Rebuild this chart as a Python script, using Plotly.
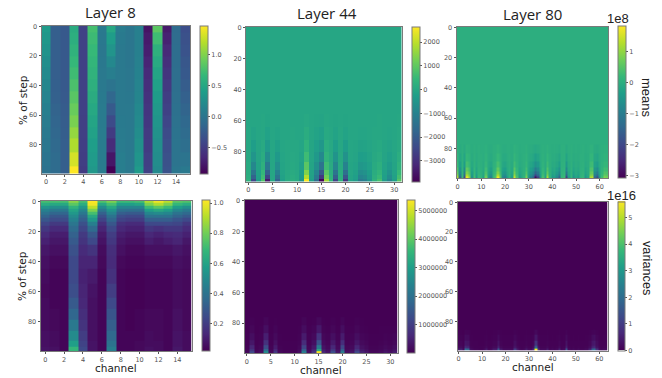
import plotly.graph_objects as go

W, H = 662, 378

# ---------- tick / text data ----------
y_ticks = [0, 20, 40, 60, 80]
x_ticks_8 = [0, 2, 4, 6, 8, 10, 12, 14]
x_ticks_44 = [0, 5, 10, 15, 20, 25, 30]
x_ticks_80 = [0, 10, 20, 30, 40, 50, 60]
titles = ["Layer 8", "Layer 44", "Layer 80"]

flat32 = [0, 0, 0, 0, 0, 0, 0, 0, 0, 0, 0, 0, 0, 0, 0, 0, 0, 0, 0, 0, 0, 0, 0, 0, 0, 0, 0, 0, 0, 0, 0, 0]
flat64 = [0, 0, 0, 0, 0, 0, 0, 0, 0, 0, 0, 0, 0, 0, 0, 0, 0, 0, 0, 0, 0, 0, 0, 0, 0, 0, 0, 0, 0, 0, 0, 0,
          0, 0, 0, 0, 0, 0, 0, 0, 0, 0, 0, 0, 0, 0, 0, 0, 0, 0, 0, 0, 0, 0, 0, 0, 0, 0, 0, 0, 0, 0, 0, 0]

# ---------- Layer 8 means: one list per channel, rows at y8m ----------
y8m = [0, 8, 16, 24, 32, 40, 48, 56, 64, 72, 80, 90, 99]
m8_channels = [
    [.38, .34, .30, .26, .22, .18, .15, .11, .08, .05, .03, .00, -.02],
    [-.20, -.20, -.20, -.20, -.20, -.19, -.18, -.16, -.14, -.12, -.10, -.08, -.08],
    [-.25, -.25, -.25, -.25, -.25, -.25, -.24, -.23, -.22, -.21, -.20, -.20, -.20],
    [.55, .58, .62, .67, .72, .78, .84, .91, .98, 1.08, 1.18, 1.32, 1.47],
    [-.45, -.45, -.45, -.45, -.45, -.45, -.45, -.45, -.46, -.46, -.47, -.48, -.50],
    [.75, .71, .68, .65, .62, .59, .55, .51, .47, .44, .41, .38, .35],
    [.05, .04, .03, .04, .05, .05, .06, .07, .07, .08, .08, .08, .08],
    [.50, .40, .31, .20, .10, .00, -.12, -.24, -.37, -.50, -.62, -.78, -.92],
    [.08, .06, .05, .05, .05, .05, .05, .05, .06, .07, .08, .10, .10],
    [.02, .02, .02, .02, .03, .03, .04, .05, .05, .05, .05, .05, .05],
    [.12, .12, .12, .13, .14, .16, .17, .20, .22, .25, .28, .32, .38],
    [-.80, -.75, -.72, -.68, -.64, -.60, -.57, -.55, -.53, -.51, -.50, -.47, -.45],
    [.85, .72, .60, .53, .47, .43, .39, .35, .32, .29, .27, .25, .22],
    [-.75, -.70, -.65, -.60, -.56, -.52, -.48, -.45, -.41, -.37, -.35, -.32, -.30],
    [-.08, -.07, -.06, -.06, -.05, -.05, -.04, -.03, -.02, -.01, .00, .00, .02],
    [-.35, -.32, -.30, -.27, -.25, -.22, -.18, -.15, -.11, -.08, -.05, .00, .05],
]

# ---------- Layer 8 variances: one list per channel, rows at y8v ----------
y8v = [0, 2, 4, 6, 8, 10, 12, 15, 18, 22, 26, 32, 40, 50, 60, 68, 75, 82, 90, 95, 99]
v8_channels = [
    [.72, .64, .54, .46, .40, .34, .29, .23, .18, .14, .11, .08, .06, .05, .04, .05, .05, .05, .06, .06, .07],
    [.72, .62, .51, .42, .35, .29, .25, .19, .14, .10, .08, .06, .04, .03, .03, .03, .04, .04, .05, .05, .06],
    [.72, .62, .51, .42, .35, .29, .25, .19, .14, .10, .08, .06, .04, .03, .03, .03, .03, .03, .03, .03, .03],
    [.84, .76, .67, .60, .55, .50, .46, .41, .37, .33, .30, .27, .24, .24, .26, .30, .35, .42, .50, .58, .68],
    [.72, .64, .55, .48, .42, .36, .32, .27, .23, .19, .17, .14, .12, .11, .12, .13, .15, .17, .20, .22, .24],
    [1.02, 1.00, .92, .82, .72, .62, .55, .45, .37, .29, .24, .17, .12, .09, .07, .06, .06, .06, .06, .07, .07],
    [.74, .62, .50, .41, .33, .27, .22, .16, .12, .09, .07, .05, .04, .03, .03, .03, .03, .03, .03, .03, .03],
    [.82, .72, .62, .54, .47, .40, .35, .29, .24, .20, .18, .15, .14, .16, .20, .24, .28, .32, .36, .40, .44],
    [.70, .58, .47, .39, .32, .26, .22, .16, .13, .10, .08, .06, .04, .03, .03, .03, .03, .03, .03, .03, .03],
    [.70, .58, .47, .38, .30, .24, .20, .14, .11, .08, .06, .04, .03, .02, .02, .02, .02, .02, .03, .03, .03],
    [.72, .60, .47, .38, .30, .24, .20, .14, .11, .08, .06, .04, .03, .02, .02, .02, .03, .03, .03, .04, .04],
    [.90, .82, .70, .58, .48, .40, .32, .24, .18, .13, .10, .06, .04, .03, .03, .03, .04, .04, .05, .05, .06],
    [1.00, .90, .76, .62, .50, .40, .32, .24, .16, .11, .08, .06, .04, .03, .03, .03, .04, .04, .04, .05, .05],
    [.92, .82, .70, .58, .48, .40, .32, .24, .18, .13, .10, .06, .04, .03, .03, .03, .03, .03, .03, .03, .03],
    [.76, .68, .57, .48, .40, .34, .28, .23, .18, .14, .12, .08, .06, .05, .05, .05, .06, .06, .07, .07, .08],
    [.74, .64, .52, .43, .36, .30, .24, .18, .14, .11, .08, .06, .05, .04, .04, .04, .04, .04, .05, .05, .05],
]

# ---------- Layer 44 means: one list per row ----------
y44m = [0, 52, 60, 69, 77, 84, 90, 94, 97, 99]
m44_rows = [
    flat32,
    flat32,
    [0, -20, 0, 10, -30, 0, -20, 0, 0, 0, 0, 0, 50, 0, -30, -60, 20, 0, -30, 0, -30, 0, 0, -10, -10, 0, 0, 10, 0, -10, 0, 10],
    [10, -90, -10, 30, -130, 0, -70, -10, 0, 10, 0, -20, 150, -10, -100, -180, 70, 20, -100, 10, -100, 0, -10, -50, -40, -20, 10, 30, -10, -40, -10, 40],
    [30, -230, -30, 80, -330, 0, -170, -20, 10, 20, 10, -50, 330, -30, -220, -420, 180, 40, -240, 30, -260, -10, -30, -120, -100, -50, 30, 70, -30, -90, -20, 90],
    [60, -480, -60, 160, -680, 0, -360, -40, 20, 40, 20, -100, 600, -50, -380, -800, 350, 80, -500, 60, -550, -20, -60, -240, -200, -100, 60, 140, -60, -180, -40, 180],
    [100, -830, -100, 280, -1180, 0, -630, -70, 30, 70, 30, -180, 950, -80, -600, -1350, 600, 140, -860, 100, -960, -30, -100, -420, -350, -180, 100, 240, -100, -310, -70, 310],
    [160, -1300, -160, 440, -1850, 0, -1000, -110, 50, 110, 50, -280, 1400, -120, -900, -2100, 930, 220, -1350, 160, -1500, -50, -160, -660, -550, -280, 160, 380, -160, -500, -110, 500],
    [220, -1800, -220, 600, -2500, 0, -1350, -150, 70, 150, 70, -380, 1900, -150, -1150, -2800, 1250, 300, -1850, 220, -2100, -70, -220, -900, -750, -380, 220, 520, -220, -680, -150, 680],
    [300, -2400, -300, 800, -3400, 0, -1800, -200, 100, 200, 100, -500, 2600, -200, -1500, -3800, 1700, 400, -2500, 300, -2800, -100, -300, -1200, -1000, -500, 300, 700, -300, -900, -200, 900],
]

# ---------- Layer 44 variances ----------
y44v = [0, 74, 78, 84, 89, 93, 96, 98, 99]
v44_rows = [
    flat32,
    flat32,
    [0, 30000, 0, 0, 80000, 0, 20000, 0, 0, 0, 0, 0, 70000, 0, 20000, 120000, 10000, 0, 30000, 0, 70000, 0, 0, 30000, 10000, 0, 0, 0, 0, 0, 0, 0],
    [0, 90000, 0, 10000, 220000, 0, 60000, 0, 0, 0, 0, 10000, 190000, 10000, 60000, 350000, 40000, 20000, 90000, 20000, 200000, 10000, 20000, 90000, 30000, 20000, 0, 0, 10000, 20000, 10000, 20000],
    [10000, 200000, 10000, 30000, 460000, 10000, 140000, 10000, 0, 0, 0, 30000, 400000, 30000, 130000, 800000, 90000, 50000, 210000, 50000, 420000, 30000, 50000, 200000, 80000, 50000, 10000, 10000, 20000, 50000, 30000, 60000],
    [20000, 340000, 20000, 50000, 780000, 20000, 240000, 20000, 10000, 10000, 10000, 50000, 680000, 50000, 220000, 1400000, 160000, 80000, 360000, 80000, 700000, 50000, 80000, 340000, 140000, 80000, 20000, 20000, 40000, 80000, 50000, 100000],
    [40000, 560000, 40000, 90000, 1250000, 40000, 400000, 40000, 20000, 20000, 20000, 90000, 1100000, 90000, 370000, 2300000, 270000, 140000, 600000, 140000, 1150000, 90000, 140000, 560000, 230000, 140000, 40000, 40000, 70000, 140000, 90000, 180000],
    [70000, 850000, 70000, 140000, 1900000, 70000, 620000, 70000, 30000, 30000, 30000, 140000, 1700000, 140000, 560000, 3400000, 420000, 210000, 920000, 210000, 1700000, 140000, 210000, 850000, 350000, 210000, 70000, 70000, 100000, 210000, 140000, 280000],
    [100000, 1200000, 100000, 200000, 2600000, 100000, 900000, 100000, 50000, 50000, 50000, 200000, 2300000, 200000, 800000, 5370000, 600000, 300000, 1300000, 300000, 2300000, 200000, 300000, 1200000, 500000, 300000, 100000, 100000, 150000, 300000, 200000, 400000],
]

# ---------- Layer 80 means (units of 1e8) ----------
y80m = [0, 75, 80, 86, 91, 94, 96, 98, 99]
m80_rows = [
    flat64,
    flat64,
    [.05, -.06, .01, -.08, .07, .04, -.02, .02, -.02, .01, 0, -.01, .03, -.02, -.04, .01, .02, .09, .02, -.03, -.04, -.01, 0, -.02, .07, .02, -.02, -.01, 0, .04, -.02, -.04, -.08, -.14, -.09, -.02, .02, -.01, .06, 0, -.02, -.01, -.03, -.07, .01, .01, -.09, -.01, .01, -.02, -.01, -.02, 0, .01, -.02, -.01, .06, .07, -.06, -.08, -.02, .01, .04, .03],
    [.14, -.16, .03, -.2, .18, .1, -.06, .04, -.05, .02, .01, -.03, .08, -.04, -.09, .02, .05, .2, .06, -.07, -.1, -.03, .01, -.04, .16, .04, -.05, -.02, .01, .09, -.04, -.1, -.17, -.32, -.23, -.05, .04, -.03, .14, .01, -.05, -.03, -.08, -.17, .02, .03, -.23, -.03, .02, -.06, -.02, -.04, .01, .02, -.05, -.02, .14, .16, -.15, -.2, -.05, .03, .09, .08],
    [.26, -.3, .06, -.38, .34, .2, -.12, .08, -.1, .04, .02, -.06, .16, -.08, -.18, .04, .1, .36, .12, -.14, -.2, -.06, .02, -.08, .3, .08, -.1, -.04, .02, .18, -.08, -.2, -.32, -.6, -.44, -.1, .08, -.06, .26, .02, -.1, -.06, -.16, -.32, .04, .06, -.44, -.06, .04, -.12, -.04, -.08, .02, .04, -.1, -.04, .26, .3, -.28, -.38, -.1, .06, .18, .16],
    [.45, -.52, .1, -.68, .6, .34, -.2, .14, -.17, .07, .03, -.1, .28, -.14, -.3, .07, .17, .6, .2, -.24, -.34, -.1, .03, -.14, .52, .14, -.17, -.07, .03, .3, -.14, -.34, -.55, -1.02, -.75, -.17, .14, -.1, .42, .03, -.17, -.1, -.27, -.55, .07, .1, -.75, -.1, .07, -.2, -.07, -.14, .03, .07, -.17, -.07, .42, .45, -.48, -.68, -.17, .1, .3, .27],
    [.65, -.75, .15, -1.0, .85, .5, -.3, .2, -.25, .1, .05, -.15, .4, -.2, -.45, .1, .25, .85, .3, -.35, -.5, -.15, .05, -.2, .75, .2, -.25, -.1, .05, .45, -.2, -.5, -.8, -1.5, -1.1, -.25, .2, -.15, .6, .05, -.25, -.15, -.4, -.8, .1, .15, -1.1, -.15, .1, -.3, -.1, -.2, .05, .1, -.25, -.1, .6, .65, -.7, -1.0, -.25, .15, .45, .4],
    [.92, -1.05, .21, -1.4, 1.2, .7, -.42, .28, -.35, .14, .07, -.21, .56, -.28, -.63, .14, .35, 1.2, .42, -.49, -.7, -.21, .07, -.28, 1.05, .28, -.35, -.14, .07, .63, -.28, -.7, -1.12, -2.1, -1.54, -.35, .28, -.21, .84, .07, -.35, -.21, -.56, -1.12, .14, .21, -1.54, -.21, .14, -.42, -.14, -.28, .07, .14, -.35, -.14, .84, .92, -.98, -1.4, -.35, .21, .63, .56],
    [1.3, -1.5, .3, -2.0, 1.7, 1.0, -.6, .4, -.5, .2, .1, -.3, .8, -.4, -.9, .2, .5, 1.7, .6, -.7, -1.0, -.3, .1, -.4, 1.5, .4, -.5, -.2, .1, .9, -.4, -1.0, -1.6, -3.0, -2.2, -.5, .4, -.3, 1.2, .1, -.5, -.3, -.8, -1.6, .2, .3, -2.2, -.3, .2, -.6, -.2, -.4, .1, .2, -.5, -.2, 1.2, 1.3, -1.4, -2.0, -.5, .3, .9, .8],
]

# ---------- Layer 80 variances (units of 1e16) ----------
y80v = [0, 84, 87, 91, 95, 97, 98, 99]
v80_rows = [
    flat64,
    flat64,
    [.01, .01, 0, .06, .05, .01, 0, 0, 0, 0, 0, 0, .01, 0, 0, .01, .01, .05, .01, 0, 0, 0, 0, 0, .03, .01, 0, 0, 0, .01, 0, 0, .02, .12, .02, 0, 0, 0, .01, 0, 0, 0, 0, .01, 0, 0, .05, 0, 0, 0, 0, 0, 0, 0, 0, 0, .01, .05, .07, .03, 0, 0, 0, 0],
    [.03, .04, .01, .18, .16, .02, .01, 0, 0, 0, 0, .01, .03, 0, .01, .03, .03, .16, .03, .01, .01, .01, .01, .01, .1, .03, .01, 0, .01, .03, .01, .01, .05, .35, .06, .01, .01, .01, .03, 0, .01, 0, .01, .04, 0, .01, .14, .01, 0, .01, 0, .01, 0, 0, .01, .01, .04, .18, .22, .08, .01, 0, .01, .01],
    [.06, .08, .02, .34, .3, .04, .02, .01, .01, 0, 0, .02, .06, .01, .02, .06, .06, .3, .06, .02, .02, .02, .02, .02, .2, .06, .02, .01, .02, .06, .02, .02, .1, .8, .12, .02, .02, .02, .06, .01, .02, .01, .02, .08, .01, .02, .28, .02, .01, .02, .01, .02, .01, .01, .02, .02, .08, .32, .4, .16, .02, .01, .02, .02],
    [.11, .14, .04, .58, .5, .07, .04, .02, .02, .01, .01, .04, .11, .02, .04, .11, .11, .46, .11, .04, .04, .04, .04, .04, .28, .11, .04, .02, .04, .11, .04, .04, .18, 1.5, .22, .04, .04, .04, .11, .02, .04, .02, .04, .14, .02, .04, .42, .04, .02, .04, .02, .04, .02, .02, .04, .04, .14, .48, .58, .22, .04, .02, .04, .04],
    [.2, .25, .08, 1.05, .92, .12, .08, .04, .04, .02, .02, .08, .2, .04, .08, .2, .2, .85, .2, .08, .08, .08, .08, .08, .5, .2, .08, .04, .08, .2, .08, .08, .32, 2.8, .4, .08, .08, .08, .2, .04, .08, .04, .08, .25, .04, .08, .76, .08, .04, .08, .04, .08, .04, .04, .08, .08, .25, .85, 1.05, .4, .08, .04, .08, .08],
    [.4, .5, .15, 2.0, 1.8, .25, .15, .08, .08, .05, .05, .15, .4, .08, .15, .4, .4, 1.6, .4, .15, .15, .15, .15, .15, 1.0, .4, .15, .08, .15, .4, .15, .15, .65, 5.6, .8, .15, .15, .15, .4, .08, .15, .08, .15, .5, .08, .15, 1.5, .15, .08, .15, .08, .15, .08, .08, .15, .15, .5, 1.7, 2.0, .8, .15, .08, .15, .15],
]


def columns_to_rows(channels):
    return [list(r) for r in zip(*channels)]


fig = go.Figure()
GREY = "#555555"
FRAME = "#7a7a7a"
TICK = dict(family="DejaVu Sans", size=6.5, color=GREY)

# plot box (left, right, top, bottom) and colour bar (left, right) in pixels
panels = [
    dict(z=columns_to_rows(m8_channels), y=y8m, n=16, xt=x_ticks_8, box=(41.5, 190, 25.5, 173.5), cb=(200, 207.5),
         zr=(-0.92, 1.47), ct=[-0.5, 0, 0.5, 1.0], fmt=".1f"),
    dict(z=m44_rows, y=y44m, n=32, xt=x_ticks_44, box=(246, 401.5, 26.5, 181.5), cb=(412, 420),
         zr=(-3870, 2660), ct=[-3000, -2000, -1000, 0, 1000, 2000], fmt="d"),
    dict(z=m80_rows, y=y80m, n=64, xt=x_ticks_80, box=(456.5, 608, 26.5, 178), cb=(618, 625.5),
         zr=(-3.08, 1.83), ct=[-3, -2, -1, 0, 1], fmt="d"),
    dict(z=columns_to_rows(v8_channels), y=y8v, n=16, xt=x_ticks_8, box=(40.5, 191.5, 200.5, 351), cb=(201.5, 209),
         zr=(0.018, 1.02), ct=[0.2, 0.4, 0.6, 0.8, 1.0], fmt=".1f"),
    dict(z=v44_rows, y=y44v, n=32, xt=x_ticks_44, box=(244.5, 397.5, 200, 353), cb=(407.5, 415.5),
         zr=(0, 5375000), ct=[1000000, 2000000, 3000000, 4000000, 5000000], fmt="d"),
    dict(z=v80_rows, y=y80v, n=64, xt=x_ticks_80, box=(457.5, 607.5, 201.5, 350.5), cb=(617.5, 624.5),
         zr=(0, 5.6), ct=[0, 1, 2, 3, 4, 5], fmt="d"),
]

for i, p in enumerate(panels):
    left, right, top, bottom = p["box"]
    cl, cr = p["cb"]
    sfx = "" if i == 0 else str(i + 1)
    fig.add_trace(go.Heatmap(
        z=p["z"], x=list(range(p["n"])), y=p["y"],
        xaxis="x" + sfx, yaxis="y" + sfx,
        colorscale="Viridis", zmin=p["zr"][0], zmax=p["zr"][1],
        colorbar=dict(
            x=cl / W, xref="paper", xanchor="left", xpad=0,
            y=1 - bottom / H, yref="paper", yanchor="bottom", ypad=0,
            len=bottom - top, lenmode="pixels",
            thickness=cr - cl, thicknessmode="pixels",
            outlinecolor=FRAME, outlinewidth=1,
            tickvals=p["ct"], tickformat=p["fmt"], ticks="outside",
            ticklen=2, tickwidth=0.7, tickcolor=GREY, tickfont=TICK,
        ),
    ))
    fig.update_layout({
        "xaxis" + sfx: dict(domain=[left / W, right / W], anchor="y" + sfx,
                            range=[-0.5, p["n"] - 0.5], tickvals=p["xt"],
                            ticks="outside", ticklen=2, tickwidth=0.7, tickcolor=GREY,
                            tickfont=TICK, showgrid=False, zeroline=False,
                            showline=True, mirror=True, linecolor=FRAME, linewidth=1),
        "yaxis" + sfx: dict(domain=[1 - bottom / H, 1 - top / H], anchor="x" + sfx,
                            range=[99.5, -0.5], tickvals=y_ticks,
                            ticks="outside", ticklen=2, tickwidth=0.7, tickcolor=GREY,
                            tickfont=TICK, showgrid=False, zeroline=False,
                            showline=True, mirror=True, linecolor=FRAME, linewidth=1),
    })


def label(text, x, y, size, family, angle=0):
    fig.add_annotation(text=text, x=x / W, y=1 - y / H, xref="paper", yref="paper",
                       xanchor="center", yanchor="middle", showarrow=False, textangle=angle,
                       font=dict(family=family, size=size, color="#222222"), borderpad=0)


label(titles[0], 110, 12, 15, "Open Sans")
label(titles[1], 327, 13, 15, "Open Sans")
label(titles[2], 532, 14, 15, "Open Sans")
label("% of step", 23, 100, 10.5, "DejaVu Sans", -90)
label("% of step", 22, 276, 10.5, "DejaVu Sans", -90)
label("channel", 116, 368, 10.5, "DejaVu Sans")
label("channel", 321, 370, 10.5, "DejaVu Sans")
label("channel", 533, 367, 10.5, "DejaVu Sans")
label("1e8", 618, 19, 13, "Liberation Sans")
label("1e16", 621, 195, 13, "Liberation Sans")
label("means", 647, 98, 13, "Liberation Sans", 90)
label("variances", 647, 268, 12.7, "Liberation Sans", 90)

fig.update_layout(width=W, height=H, margin=dict(l=0, r=0, t=0, b=0, autoexpand=False),
                  paper_bgcolor="white", plot_bgcolor="white", showlegend=False)
fig.write_html("out.html", config={"displayModeBar": False},
               post_script="document.body.style.margin='0';document.documentElement.style.overflow='hidden';")
